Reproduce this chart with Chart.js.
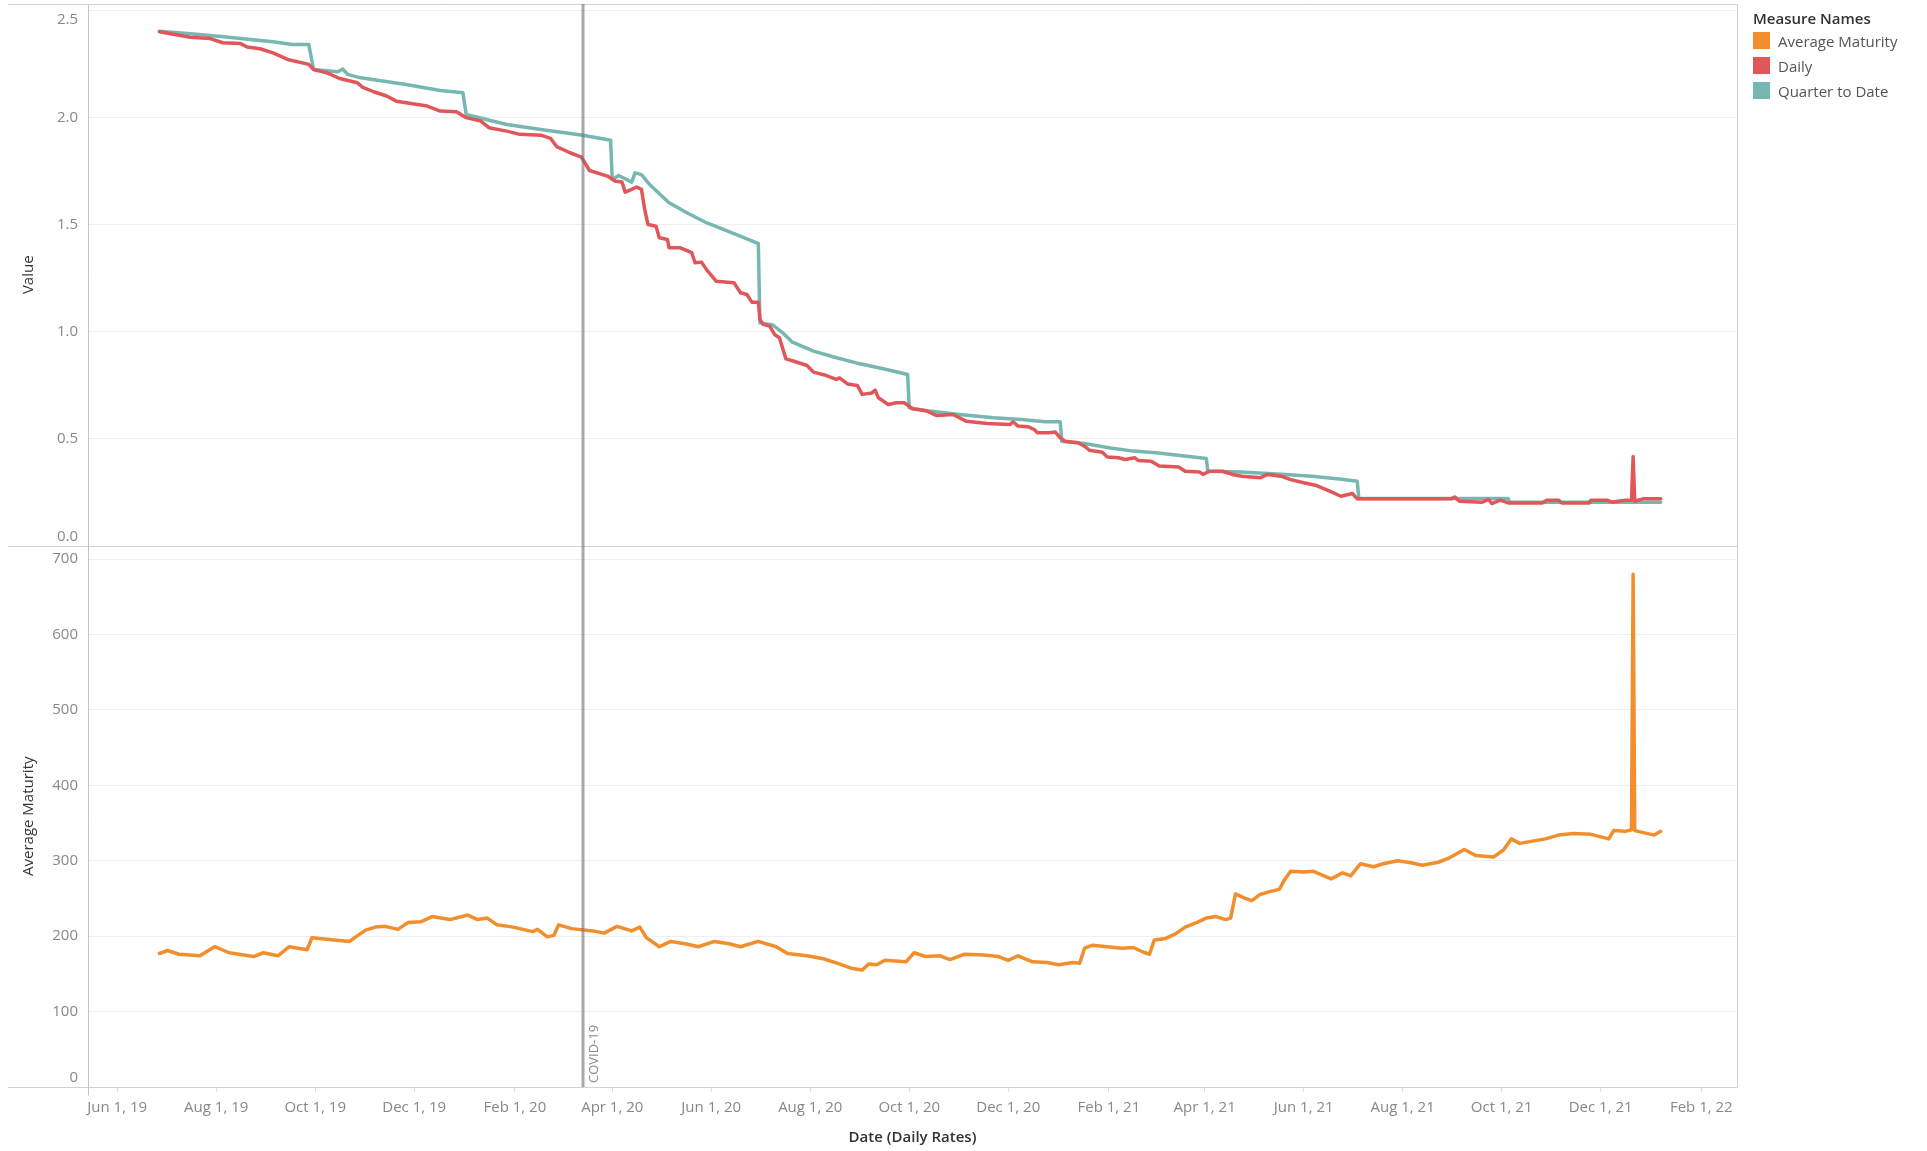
<!DOCTYPE html>
<html>
<head>
<meta charset="utf-8">
<title>Daily Rates</title>
<script src="https://cdn.jsdelivr.net/npm/chart.js@4.4.1/dist/chart.umd.min.js"></script>
<style>
  html, body { margin: 0; background: #fff; }
  #wrap { position: relative; width: 1927px; height: 1151px; font-family: 'Open Sans', sans-serif; }
  #legend { position: absolute; left: 1753px; top: 9px; }
  #legend .title { font-size: 15px; line-height: 19px; font-weight: 600; color: #333; }
  #legend .item { display: flex; align-items: center; height: 25px; font-size: 15px; color: #555; }
  #legend .swatch { width: 17px; height: 17px; margin-right: 8px; }
</style>
</head>
<body>
<div id="wrap">
  <canvas id="chart" width="1927" height="1151"></canvas>
  <div id="legend"></div>
</div>
<script>
// x axis: dates, labelled every two months
const xStart = '2019-05-14';
const xEnd = '2022-02-23';
const xTickDates = ['2019-06-01', '2019-08-01', '2019-10-01', '2019-12-01', '2020-02-01', '2020-04-01',
  '2020-06-01', '2020-08-01', '2020-10-01', '2020-12-01', '2021-02-01', '2021-04-01', '2021-06-01',
  '2021-08-01', '2021-10-01', '2021-12-01', '2022-02-01'];
const xTickLabels = ['Jun 1, 19', 'Aug 1, 19', 'Oct 1, 19', 'Dec 1, 19', 'Feb 1, 20', 'Apr 1, 20',
  'Jun 1, 20', 'Aug 1, 20', 'Oct 1, 20', 'Dec 1, 20', 'Feb 1, 21', 'Apr 1, 21', 'Jun 1, 21',
  'Aug 1, 21', 'Oct 1, 21', 'Dec 1, 21', 'Feb 1, 22'];

const valueTicks = [0, 0.5, 1, 1.5, 2, 2.5];
const valueMax = 2.53;
const maturityTicks = [0, 100, 200, 300, 400, 500, 600, 700];
const maturityMax = 718;

const covidDate = '2020-03-14';
const covidLabel = 'COVID-19';

const seriesNames = ['Average Maturity', 'Daily', 'Quarter to Date'];
const seriesColors = ['#f28e2b', '#e15759', '#76b7b2'];

// Daily rate
const dailyDates = ['2019-06-27', '2019-07-16', '2019-07-28', '2019-08-05', '2019-08-16', '2019-08-20',
  '2019-08-28', '2019-09-05', '2019-09-14', '2019-09-27', '2019-09-30', '2019-10-08', '2019-10-16',
  '2019-10-27', '2019-10-30', '2019-11-06', '2019-11-14', '2019-11-20', '2019-12-09', '2019-12-17',
  '2019-12-27', '2020-01-02', '2020-01-11', '2020-01-16', '2020-01-27', '2020-02-04', '2020-02-17',
  '2020-02-23', '2020-02-27', '2020-03-06', '2020-03-13', '2020-03-18', '2020-03-29', '2020-04-03',
  '2020-04-07', '2020-04-09', '2020-04-13', '2020-04-16', '2020-04-19', '2020-04-21', '2020-04-23',
  '2020-04-28', '2020-04-30', '2020-05-05', '2020-05-06', '2020-05-13', '2020-05-20', '2020-05-22',
  '2020-05-26', '2020-05-29', '2020-06-04', '2020-06-15', '2020-06-19', '2020-06-23', '2020-06-26',
  '2020-06-30', '2020-07-01', '2020-07-03', '2020-07-07', '2020-07-10', '2020-07-13', '2020-07-17',
  '2020-07-22', '2020-07-30', '2020-08-03', '2020-08-11', '2020-08-17', '2020-08-19', '2020-08-24',
  '2020-08-30', '2020-09-02', '2020-09-08', '2020-09-10', '2020-09-12', '2020-09-18', '2020-09-23',
  '2020-09-28', '2020-10-03', '2020-10-12', '2020-10-18', '2020-10-28', '2020-11-05', '2020-11-18',
  '2020-12-02', '2020-12-04', '2020-12-07', '2020-12-13', '2020-12-17', '2020-12-19', '2020-12-26',
  '2020-12-30', '2021-01-02', '2021-01-05', '2021-01-13', '2021-01-17', '2021-01-20', '2021-01-28',
  '2021-01-31', '2021-02-07', '2021-02-11', '2021-02-17', '2021-02-19', '2021-02-27', '2021-03-04',
  '2021-03-16', '2021-03-20', '2021-03-29', '2021-03-31', '2021-04-04', '2021-04-12', '2021-04-18',
  '2021-04-24', '2021-05-05', '2021-05-10', '2021-05-18', '2021-05-24', '2021-06-01', '2021-06-09',
  '2021-06-17', '2021-06-24', '2021-07-01', '2021-07-04', '2021-08-31', '2021-09-02', '2021-09-05',
  '2021-09-19', '2021-09-23', '2021-09-25', '2021-09-30', '2021-10-05', '2021-10-26', '2021-10-29',
  '2021-11-05', '2021-11-07', '2021-11-24', '2021-11-25', '2021-12-05', '2021-12-08', '2021-12-16',
  '2021-12-20', '2021-12-21', '2021-12-22', '2021-12-27', '2022-01-07'];
const dailyValues = [2.400, 2.375, 2.369, 2.349, 2.345, 2.329,
  2.321, 2.302, 2.271, 2.248, 2.224, 2.209, 2.182,
  2.162, 2.142, 2.120, 2.100, 2.076, 2.053, 2.030,
  2.027, 1.999, 1.983, 1.952, 1.936, 1.921, 1.917,
  1.902, 1.862, 1.835, 1.815, 1.752, 1.726, 1.702,
  1.698, 1.651, 1.664, 1.675, 1.664, 1.570, 1.500,
  1.492, 1.438, 1.430, 1.391, 1.391, 1.368, 1.321,
  1.324, 1.290, 1.235, 1.228, 1.181, 1.173, 1.137,
  1.137, 1.056, 1.033, 1.025, 0.986, 0.971, 0.872,
  0.861, 0.841, 0.810, 0.794, 0.776, 0.783, 0.755,
  0.748, 0.706, 0.713, 0.726, 0.690, 0.659, 0.667,
  0.667, 0.639, 0.628, 0.607, 0.612, 0.581, 0.570,
  0.565, 0.578, 0.558, 0.555, 0.542, 0.527, 0.527,
  0.530, 0.503, 0.487, 0.480, 0.464, 0.445, 0.436,
  0.414, 0.410, 0.402, 0.410, 0.397, 0.394, 0.371,
  0.367, 0.347, 0.343, 0.332, 0.347, 0.347, 0.332,
  0.324, 0.316, 0.332, 0.324, 0.308, 0.293, 0.280,
  0.254, 0.230, 0.243, 0.218, 0.218, 0.227, 0.207,
  0.202, 0.215, 0.196, 0.212, 0.199, 0.199, 0.212,
  0.212, 0.199, 0.199, 0.212, 0.212, 0.202, 0.212,
  0.212, 0.416, 0.207, 0.218, 0.218];

// Quarter to date rate (resets each quarter)
const qtdDates = ['2019-06-27', '2019-07-18', '2019-08-04', '2019-08-22', '2019-09-05', '2019-09-17',
  '2019-09-27', '2019-09-30', '2019-10-15', '2019-10-18', '2019-10-21', '2019-10-29', '2019-11-26',
  '2019-12-17', '2019-12-31', '2020-01-02', '2020-01-27', '2020-02-17', '2020-03-14', '2020-03-31',
  '2020-04-01', '2020-04-05', '2020-04-13', '2020-04-15', '2020-04-19', '2020-04-24', '2020-05-06',
  '2020-05-17', '2020-05-29', '2020-06-10', '2020-06-23', '2020-06-30', '2020-07-01', '2020-07-09',
  '2020-07-15', '2020-07-21', '2020-08-03', '2020-08-15', '2020-08-31', '2020-09-17', '2020-09-30',
  '2020-10-01', '2020-10-12', '2020-11-01', '2020-11-22', '2020-12-09', '2020-12-24', '2021-01-02',
  '2021-01-03', '2021-01-17', '2021-02-02', '2021-02-16', '2021-03-02', '2021-03-21', '2021-04-02',
  '2021-04-03', '2021-04-23', '2021-05-21', '2021-06-06', '2021-06-23', '2021-07-04', '2021-07-05',
  '2021-10-05', '2021-10-06', '2022-01-07'];
const qtdValues = [2.403, 2.390, 2.378, 2.364, 2.354, 2.341,
  2.341, 2.224, 2.213, 2.226, 2.201, 2.185, 2.154,
  2.126, 2.115, 2.014, 1.967, 1.944, 1.917, 1.893,
  1.710, 1.729, 1.698, 1.741, 1.733, 1.687, 1.601,
  1.555, 1.508, 1.472, 1.433, 1.410, 1.041, 1.030,
  0.994, 0.950, 0.908, 0.882, 0.850, 0.822, 0.799,
  0.643, 0.630, 0.612, 0.597, 0.589, 0.578, 0.578,
  0.487, 0.477, 0.456, 0.441, 0.433, 0.417, 0.407,
  0.347, 0.343, 0.332, 0.324, 0.311, 0.300, 0.220,
  0.220, 0.202, 0.202];

// Average maturity (days)
const maturityDates = ['2019-06-27', '2019-07-02', '2019-07-09', '2019-07-22', '2019-07-31', '2019-08-09',
  '2019-08-24', '2019-08-30', '2019-09-08', '2019-09-15', '2019-09-26', '2019-09-29', '2019-10-08',
  '2019-10-22', '2019-10-26', '2019-11-01', '2019-11-07', '2019-11-13', '2019-11-21', '2019-11-27',
  '2019-12-05', '2019-12-12', '2019-12-23', '2020-01-03', '2020-01-09', '2020-01-15', '2020-01-21',
  '2020-01-31', '2020-02-12', '2020-02-15', '2020-02-21', '2020-02-25', '2020-02-28', '2020-03-07',
  '2020-03-20', '2020-03-27', '2020-04-04', '2020-04-13', '2020-04-18', '2020-04-22', '2020-04-30',
  '2020-05-07', '2020-05-16', '2020-05-24', '2020-06-03', '2020-06-12', '2020-06-19', '2020-06-30',
  '2020-07-11', '2020-07-18', '2020-07-30', '2020-08-09', '2020-08-18', '2020-08-27', '2020-09-02',
  '2020-09-06', '2020-09-11', '2020-09-16', '2020-09-29', '2020-10-04', '2020-10-11', '2020-10-20',
  '2020-10-26', '2020-11-04', '2020-11-16', '2020-11-25', '2020-12-01', '2020-12-07', '2020-12-16',
  '2020-12-25', '2021-01-01', '2021-01-10', '2021-01-14', '2021-01-17', '2021-01-22', '2021-01-31',
  '2021-02-09', '2021-02-16', '2021-02-22', '2021-02-26', '2021-03-01', '2021-03-08', '2021-03-14',
  '2021-03-20', '2021-03-27', '2021-04-02', '2021-04-08', '2021-04-14', '2021-04-17', '2021-04-20',
  '2021-04-26', '2021-04-30', '2021-05-05', '2021-05-11', '2021-05-17', '2021-05-20', '2021-05-24',
  '2021-06-01', '2021-06-07', '2021-06-18', '2021-06-25', '2021-06-30', '2021-07-06', '2021-07-14',
  '2021-07-20', '2021-07-29', '2021-08-07', '2021-08-13', '2021-08-23', '2021-08-29', '2021-09-03',
  '2021-09-08', '2021-09-15', '2021-09-26', '2021-10-02', '2021-10-07', '2021-10-12', '2021-10-20',
  '2021-10-28', '2021-11-05', '2021-11-14', '2021-11-25', '2021-12-06', '2021-12-09', '2021-12-16',
  '2021-12-20', '2021-12-21', '2021-12-22', '2021-12-24', '2021-12-30', '2022-01-03', '2022-01-07'];
const maturityValues = [177, 181, 176, 174, 186, 178,
  173, 178, 174, 186, 182, 198, 196,
  193, 199, 208, 212, 213, 209, 218,
  219, 226, 222, 228, 222, 224, 215,
  212, 206, 209, 199, 201, 215, 210,
  207, 204, 213, 207, 212, 198, 186,
  193, 190, 186, 193, 190, 186, 193,
  186, 177, 174, 170, 164, 157, 155,
  163, 162, 168, 166, 178, 173, 174,
  169, 176, 175, 173, 168, 174, 166,
  165, 162, 165, 164, 184, 188, 186,
  184, 185, 179, 176, 195, 197, 203,
  212, 218, 224, 226, 222, 224, 256,
  250, 247, 255, 259, 262, 274, 286,
  285, 286, 276, 284, 280, 296, 292,
  296, 300, 297, 294, 298, 303, 309,
  315, 307, 305, 314, 329, 323, 326,
  329, 334, 336, 335, 329, 340, 339,
  341, 680, 340, 339, 336, 334, 339];

const DAY0 = Date.UTC(2019, 5, 1);
const dayOf = (s) => (Date.parse(s + 'T00:00:00Z') - DAY0) / 86400000;
const toPoints = (dates, values) => dates.map((d, i) => ({ x: dayOf(d), y: values[i] }));

// legend (html, same place as the original one)
const legendEl = document.getElementById('legend');
legendEl.innerHTML = '<div class="title">Measure Names</div>' + seriesNames.map((n, i) =>
  `<div class="item"><span class="swatch" style="background:${seriesColors[i]}"></span>${n}</div>`).join('');

Chart.defaults.font.family = "'Open Sans', sans-serif";

const TICK_FONT = { size: 15 };
const TICK_COLOR = '#888';
const FRAME_COLOR = '#d2d2d2';

// frame lines + covid reference line
const framePlugin = {
  id: 'frame',
  afterDatasetsDraw(chart) {
    const { ctx, chartArea: a, scales } = chart;
    const split = Math.round(scales.yVal.bottom) + 0.5;
    const top = Math.round(a.top) + 0.5;
    const bottom = Math.round(a.bottom) + 0.5;
    const left = Math.round(a.left) + 0.5;
    const right = Math.round(a.right) + 0.5;
    ctx.save();
    ctx.lineWidth = 1;
    ctx.strokeStyle = FRAME_COLOR;
    ctx.beginPath();
    for (const y of [top, split, bottom]) { ctx.moveTo(8, y); ctx.lineTo(right, y); }
    ctx.moveTo(right, top); ctx.lineTo(right, bottom);
    ctx.stroke();
    ctx.strokeStyle = '#c4c4c4';
    ctx.beginPath();
    ctx.moveTo(left, top); ctx.lineTo(left, bottom + 8);
    ctx.stroke();

    const xc = scales.x.getPixelForValue(dayOf(covidDate));
    ctx.strokeStyle = 'rgba(112,112,112,0.6)';
    ctx.lineWidth = 3;
    ctx.beginPath();
    ctx.moveTo(xc, a.top); ctx.lineTo(xc, a.bottom);
    ctx.stroke();
    ctx.translate(xc + 5, a.bottom - 4);
    ctx.rotate(-Math.PI / 2);
    ctx.font = "13px 'Open Sans', sans-serif";
    ctx.fillStyle = '#888';
    ctx.textAlign = 'left';
    ctx.textBaseline = 'top';
    ctx.fillText(covidLabel, 0, 0);
    ctx.restore();
  },
};

function yAxis(tickValues, max, title, fmt) {
  return {
    type: 'linear',
    position: 'left',
    stack: 'panes',
    stackWeight: 1,
    min: 0,
    max,
    afterBuildTicks: (axis) => { axis.ticks = tickValues.map(v => ({ value: v })); },
    afterFit: (s) => { s.width = 88; s.paddingTop = 0; s.paddingBottom = 0; },
    border: { display: false },
    grid: {
      drawTicks: false,
      color: (c) => (c.tick && c.tick.value === 0 ? 'rgba(0,0,0,0)' : '#efefef'),
    },
    ticks: {
      font: TICK_FONT,
      color: TICK_COLOR,
      padding: 10,
      callback: fmt,
    },
    title: { display: true, text: title, color: '#333', font: { size: 15 }, padding: { top: 20, bottom: 0 } },
  };
}

new Chart(document.getElementById('chart'), {
  type: 'line',
  data: {
    datasets: [
      { label: seriesNames[1], data: toPoints(dailyDates, dailyValues), yAxisID: 'yVal', borderColor: seriesColors[1] },
      { label: seriesNames[2], data: toPoints(qtdDates, qtdValues), yAxisID: 'yVal', borderColor: seriesColors[2] },
      { label: seriesNames[0], data: toPoints(maturityDates, maturityValues), yAxisID: 'yMat', borderColor: seriesColors[0] },
    ],
  },
  options: {
    responsive: false,
    animation: false,
    devicePixelRatio: 1,
    events: [],
    layout: { padding: { top: 4, right: 190, left: 0, bottom: 0 } },
    elements: {
      point: { radius: 0 },
      line: { borderWidth: 3.5, tension: 0, borderCapStyle: 'round', borderJoinStyle: 'round', fill: false },
    },
    plugins: { legend: { display: false }, tooltip: { enabled: false } },
    scales: {
      x: {
        type: 'linear',
        position: 'bottom',
        min: dayOf(xStart),
        max: dayOf(xEnd),
        afterBuildTicks: (axis) => { axis.ticks = xTickDates.map(d => ({ value: dayOf(d) })); },
        afterFit: (s) => { s.height = 64; s.paddingLeft = 0; s.paddingRight = 0; },
        border: { display: false },
        grid: { drawOnChartArea: false, drawTicks: true, tickLength: 5, color: '#dddddd' },
        ticks: {
          autoSkip: false,
          maxRotation: 0,
          font: TICK_FONT,
          color: TICK_COLOR,
          padding: 7,
          callback: (v, i) => xTickLabels[i],
        },
        title: { display: true, text: 'Date (Daily Rates)', color: '#333', font: { size: 15, weight: '600' }, padding: { top: 0, bottom: 4 } },
      },
      // bottom pane first: stacked left axes are placed last-defined on top
      yMat: yAxis(maturityTicks, maturityMax, 'Average Maturity', (v) => (v === 0 ? ['0', ''] : String(v))),
      yVal: yAxis(valueTicks, valueMax, 'Value', (v, i, t) => {
        const s = v.toFixed(1);
        if (v === 0) return [s, ''];
        if (i === t.length - 1) return ['', s];
        return s;
      }),
    },
  },
  plugins: [framePlugin],
});
</script>
</body>
</html>
